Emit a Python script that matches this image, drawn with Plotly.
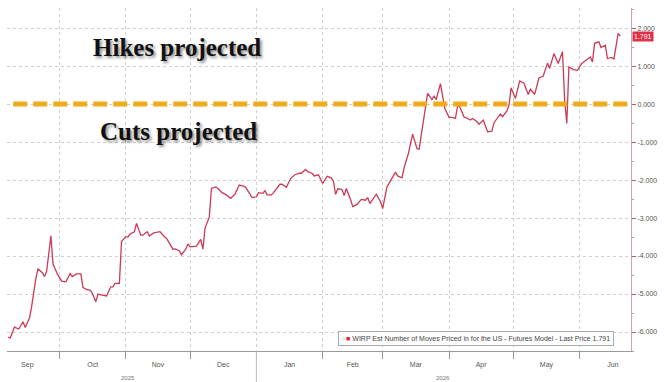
import plotly.graph_objects as go

dates = [
    "2025-09-07","2025-09-08","2025-09-10","2025-09-12","2025-09-14","2025-09-15","2025-09-17","2025-09-18",
    "2025-09-20","2025-09-21","2025-09-23","2025-09-24","2025-09-25","2025-09-27","2025-09-28","2025-09-29",
    "2025-09-30","2025-10-02","2025-10-04","2025-10-06","2025-10-07","2025-10-09","2025-10-11","2025-10-12",
    "2025-10-14","2025-10-15","2025-10-16","2025-10-18","2025-10-19","2025-10-21","2025-10-23","2025-10-25",
    "2025-10-26","2025-10-27","2025-10-29","2025-10-30","2025-11-01","2025-11-02","2025-11-03","2025-11-05",
    "2025-11-06","2025-11-08","2025-11-09","2025-11-11","2025-11-12","2025-11-14","2025-11-17","2025-11-19",
    "2025-11-20","2025-11-23","2025-11-24","2025-11-26","2025-11-27","2025-11-29","2025-11-30","2025-12-01",
    "2025-12-03","2025-12-04","2025-12-06","2025-12-07","2025-12-08","2025-12-10","2025-12-11","2025-12-13",
    "2025-12-14","2025-12-16","2025-12-18","2025-12-20","2025-12-22","2025-12-23","2025-12-24","2025-12-26",
    "2025-12-27","2025-12-29","2025-12-30","2026-01-01","2026-01-02","2026-01-04","2026-01-05","2026-01-06",
    "2026-01-08","2026-01-09","2026-01-12","2026-01-13","2026-01-15","2026-01-17","2026-01-19","2026-01-21",
    "2026-01-22","2026-01-24","2026-01-25","2026-01-27","2026-01-28","2026-01-30","2026-02-01","2026-02-03",
    "2026-02-05","2026-02-06","2026-02-07","2026-02-08","2026-02-10","2026-02-11","2026-02-12","2026-02-14",
    "2026-02-15","2026-02-17","2026-02-19","2026-02-21","2026-02-22","2026-02-23","2026-02-26","2026-02-28",
    "2026-03-01","2026-03-03","2026-03-05","2026-03-07","2026-03-08","2026-03-10","2026-03-11","2026-03-13",
    "2026-03-15","2026-03-17","2026-03-18","2026-03-20","2026-03-22","2026-03-24","2026-03-25","2026-03-26",
    "2026-03-28","2026-03-29","2026-03-30","2026-04-01","2026-04-02","2026-04-04","2026-04-05","2026-04-06",
    "2026-04-08","2026-04-09","2026-04-11","2026-04-12","2026-04-14","2026-04-15","2026-04-17","2026-04-19",
    "2026-04-21","2026-04-22","2026-04-25","2026-04-26","2026-04-28","2026-04-29","2026-04-30","2026-05-02",
    "2026-05-04","2026-05-06","2026-05-08","2026-05-09","2026-05-11","2026-05-13","2026-05-15","2026-05-17",
    "2026-05-18","2026-05-20","2026-05-22","2026-05-24","2026-05-25","2026-05-26","2026-05-27","2026-05-29",
    "2026-05-31","2026-06-02","2026-06-04","2026-06-06","2026-06-07","2026-06-08","2026-06-10","2026-06-11",
    "2026-06-13","2026-06-14","2026-06-16","2026-06-17","2026-06-19","2026-06-20",
]

moves = [
    -6.13,-6.16,-5.87,-5.92,-5.73,-5.88,-5.63,-5.33,
    -4.58,-4.34,-4.44,-4.54,-4.41,-3.47,-4.21,-4.35,
    -4.47,-4.66,-4.68,-4.46,-4.54,-4.47,-4.47,-4.83,
    -4.89,-4.89,-4.94,-5.20,-5.00,-5.03,-5.05,-4.81,
    -4.81,-4.72,-4.72,-3.62,-3.49,-3.50,-3.42,-3.36,
    -3.14,-3.45,-3.45,-3.36,-3.47,-3.39,-3.36,-3.49,
    -3.53,-3.82,-3.81,-3.86,-3.97,-3.82,-3.68,-3.76,
    -3.74,-3.74,-3.56,-3.82,-3.27,-2.97,-2.22,-2.18,
    -2.22,-2.33,-2.39,-2.48,-2.37,-2.24,-2.13,-2.16,
    -2.19,-2.37,-2.46,-2.44,-2.33,-2.35,-2.28,-2.39,
    -2.39,-2.33,-2.11,-2.11,-2.19,-1.96,-1.86,-1.82,
    -1.82,-1.72,-1.78,-1.82,-1.89,-1.86,-2.09,-1.90,
    -1.94,-2.03,-2.38,-2.23,-2.25,-2.41,-2.22,-2.51,
    -2.70,-2.64,-2.51,-2.53,-2.46,-2.62,-2.37,-2.57,
    -2.75,-2.18,-1.97,-1.79,-1.89,-1.94,-1.68,-1.30,
    -0.79,-1.17,-1.19,-0.49,0.28,0.12,0.21,0.12,
    0.54,0.21,-0.11,-0.35,-0.35,-0.37,-0.05,-0.07,
    -0.34,-0.36,-0.42,-0.38,-0.46,-0.53,-0.42,-0.73,
    -0.71,-0.49,-0.26,-0.33,-0.18,-0.03,0.43,0.15,
    0.61,0.55,0.25,0.39,0.26,0.69,0.74,1.08,
    0.94,1.33,1.07,1.38,0.11,-0.51,0.98,0.91,
    0.89,1.07,1.16,1.24,1.11,1.60,1.64,1.49,
    1.55,1.20,1.23,1.18,1.86,1.791,
]

y_ticks = [2, 1, 0, -1, -2, -3, -4, -5, -6]
y_labels = ["2.000", "1.000", "0.000", "-1.000", "-2.000", "-3.000", "-4.000", "-5.000", "-6.000"]
last_price = 1.791
series_name = "WIRP Est Number of Moves Priced in for the US - Futures Model - Last Price 1.791"
year_labels = [("2025-11-02", "2025"), ("2026-03-29", "2026")]

RED = "#cc3a55"
GRID = "#cfcfcf"
TXT = "#555555"

fig = go.Figure()
fig.add_trace(go.Scatter(
    x=dates, y=moves, mode="lines", name=series_name,
    line=dict(color=RED, width=1.3), showlegend=False,
))

fig.update_layout(
    width=664, height=382,
    margin=dict(l=7, r=24, t=8, b=31),
    paper_bgcolor="white", plot_bgcolor="white",
    font=dict(family="Liberation Sans", size=7, color=TXT),
    xaxis=dict(
        type="date",
        range=["2025-09-06 12:00", "2026-06-25"],
        dtick="M1", tick0="2025-09-01",
        tickformat="%b", ticklabelmode="period",
        showgrid=True, gridcolor=GRID, griddash="dot", gridwidth=1,
        ticks="outside", ticklen=7, tickcolor="#999999",
        showline=True, linecolor="#9a9a9a", linewidth=1,
        tickfont=dict(size=7, color=TXT),
        zeroline=False,
    ),
    yaxis=dict(
        side="right",
        range=[-6.5, 2.53],
        tickvals=y_ticks, ticktext=y_labels,
        showgrid=True, gridcolor=GRID, griddash="dot", gridwidth=1,
        ticks="outside", ticklen=4, tickcolor="#b06070",
        minor=dict(ticks="outside", ticklen=2, dtick=0.5, tickcolor="#c09aa4", showgrid=False),
        showline=True, linecolor="#c8a4ae", linewidth=1,
        tickfont=dict(size=7, color=TXT),
        zeroline=False,
    ),
)

# zero line (hikes vs cuts boundary)
fig.add_shape(type="line", xref="paper", yref="y", x0=0.01, x1=0.995, y0=0, y1=0,
              line=dict(color="#f0aa1c", width=5, dash="14px,6px"), layer="above")

# Year boundary tick
fig.add_shape(type="line", xref="x", yref="paper", x0="2026-01-01", x1="2026-01-01",
              y0=0, y1=-0.095, line=dict(color="#bbbbbb", width=1))

for xd, lab in year_labels:
    fig.add_annotation(x=xd, xref="x", y=-0.078, yref="paper", text=lab, showarrow=False,
                       font=dict(size=6, color="#777777"), xanchor="center", yanchor="middle")

shadow = "2px 2px 3px rgba(0,0,0,0.45)"
fig.add_annotation(x=0.273, y=0.886, xref="paper", yref="paper", text="<b>Hikes projected</b>",
                   xanchor="center", yanchor="middle", showarrow=False,
                   font=dict(family="Liberation Serif", size=25, color="#111111", shadow=shadow))
fig.add_annotation(x=0.275, y=0.641, xref="paper", yref="paper", text="<b>Cuts projected</b>",
                   xanchor="center", yanchor="middle", showarrow=False,
                   font=dict(family="Liberation Serif", size=25, color="#111111", shadow=shadow))

# legend box
fig.add_annotation(x=0.752, y=0.036, xref="paper", yref="paper", xanchor="center", yanchor="middle",
                   text="<span style='color:#bbbbbb'>=</span><span style='color:#e0203c'>■</span> " + series_name,
                   showarrow=False, font=dict(size=7, color="#444444"),
                   bordercolor="#aaaaaa", borderwidth=1, borderpad=3, bgcolor="white")

# last price tag
fig.add_annotation(x=1.0, xref="paper", xanchor="left", xshift=1, y=last_price, yref="y",
                   yanchor="middle", text=f"{last_price:.3f}", showarrow=False,
                   font=dict(size=7, color="white"), bgcolor="#e0304a", borderpad=1)

fig.write_html("out.html")
